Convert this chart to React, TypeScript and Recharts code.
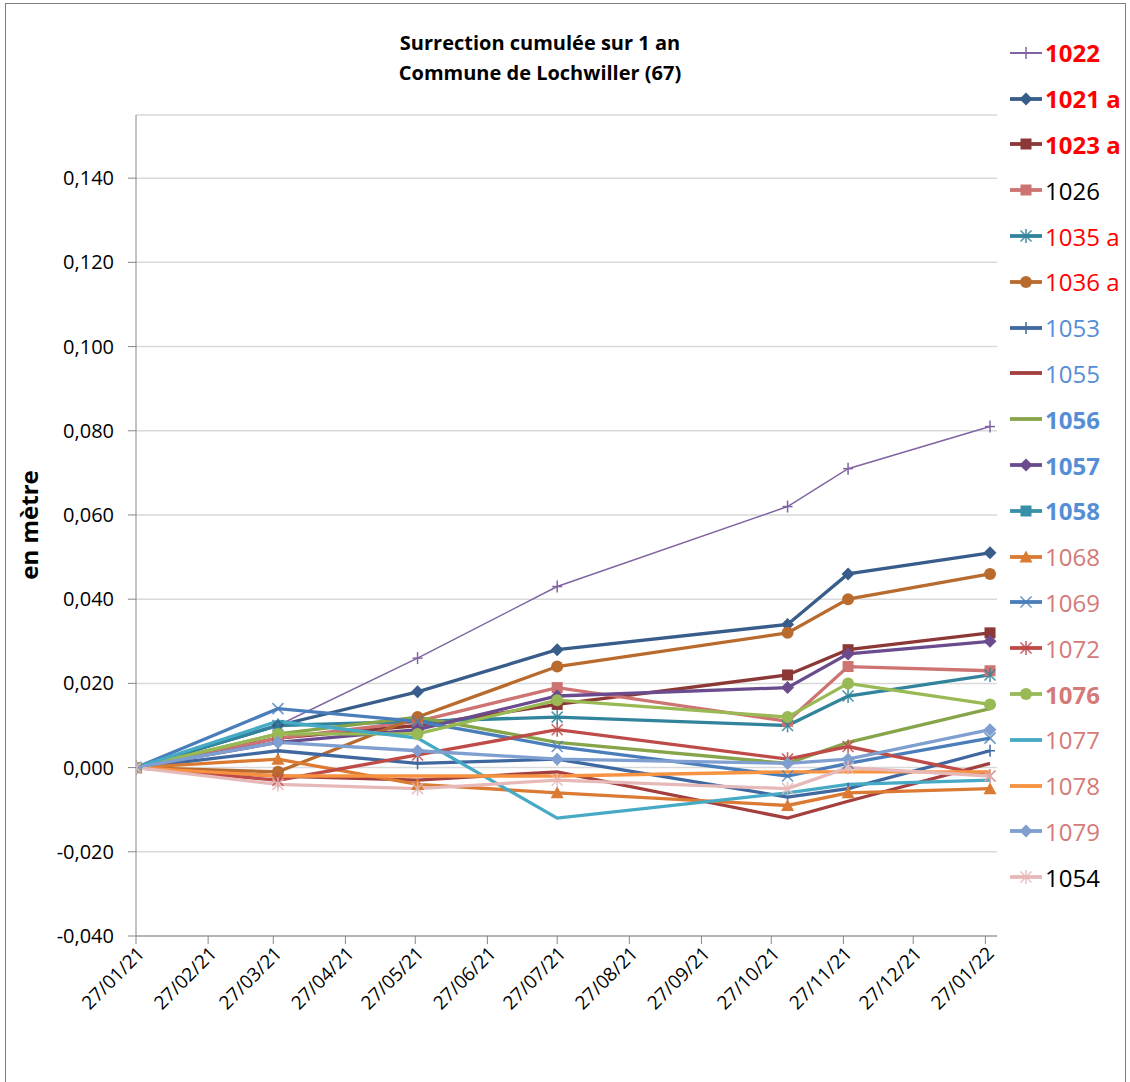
import { Legend, Line, LineChart, CartesianGrid, XAxis, YAxis } from 'recharts'

// days since 27/01/21
const surveyDays = [0, 61, 121, 181, 280, 306, 367]
const tickDays = [0, 31, 59, 90, 120, 151, 181, 212, 243, 273, 304, 334, 365]
const tickLabels = [
  '27/01/21', '27/02/21', '27/03/21', '27/04/21', '27/05/21', '27/06/21', '27/07/21',
  '27/08/21', '27/09/21', '27/10/21', '27/11/21', '27/12/21', '27/01/22',
]
const yTicks = [-0.04, -0.02, 0, 0.02, 0.04, 0.06, 0.08, 0.1, 0.12, 0.14]

const v1022 = [0, 0.01, 0.026, 0.043, 0.062, 0.071, 0.081]
const v1021a = [0, 0.01, 0.018, 0.028, 0.034, 0.046, 0.051]
const v1023a = [0, 0.007, 0.01, 0.015, 0.022, 0.028, 0.032]
const v1026 = [0, 0.007, 0.011, 0.019, 0.011, 0.024, 0.023]
const v1035a = [0, 0.01, 0.011, 0.012, 0.01, 0.017, 0.022]
const v1036a = [0, -0.001, 0.012, 0.024, 0.032, 0.04, 0.046]
const v1053 = [0, 0.004, 0.001, 0.002, -0.007, -0.005, 0.004]
const v1055 = [0, -0.002, -0.003, -0.001, -0.012, -0.008, 0.001]
const v1056 = [0, 0.008, 0.012, 0.006, 0.001, 0.006, 0.014]
const v1057 = [0, 0.006, 0.009, 0.017, 0.019, 0.027, 0.03]
const v1058 = [0, null, null, null, null, null, null]
const v1068 = [0, 0.002, -0.004, -0.006, -0.009, -0.006, -0.005]
const v1069 = [0, 0.014, 0.011, 0.005, -0.002, 0.001, 0.007]
const v1072 = [0, -0.003, 0.003, 0.009, 0.002, 0.005, -0.002]
const v1076 = [0, 0.008, 0.008, 0.016, 0.012, 0.02, 0.015]
const v1077 = [0, 0.011, 0.007, -0.012, -0.006, -0.004, -0.003]
const v1078 = [0, -0.002, -0.002, -0.002, -0.001, -0.001, -0.001]
const v1079 = [0, 0.006, 0.004, 0.002, 0.001, 0.002, 0.009]
const v1054 = [0, -0.004, -0.005, -0.003, -0.005, 0, -0.002]

type Shape = 'plus' | 'diamond' | 'square' | 'star' | 'circle' | 'triangle' | 'x' | 'none'

interface Series {
  key: string
  name: string
  values: (number | null)[]
  color: string
  width: number
  shape: Shape
  labelColor: string
  bold: boolean
}

const RED = '#FF0000'
const BLUE = '#558ED5'
const PINK = '#D47A78'
const FONT = "'Open Sans', sans-serif"

const series: Series[] = [
  { key: 's1022', name: '1022', values: v1022, color: '#8064A2', width: 1.5, shape: 'plus', labelColor: RED, bold: true },
  { key: 's1021a', name: '1021 a', values: v1021a, color: '#385D8A', width: 3.3, shape: 'diamond', labelColor: RED, bold: true },
  { key: 's1023a', name: '1023 a', values: v1023a, color: '#8C3836', width: 3.3, shape: 'square', labelColor: RED, bold: true },
  { key: 's1026', name: '1026', values: v1026, color: '#CD7371', width: 3.3, shape: 'square', labelColor: '#000000', bold: false },
  { key: 's1035a', name: '1035 a', values: v1035a, color: '#31849B', width: 3.3, shape: 'star', labelColor: RED, bold: false },
  { key: 's1036a', name: '1036 a', values: v1036a, color: '#B96B2E', width: 3.3, shape: 'circle', labelColor: RED, bold: false },
  { key: 's1053', name: '1053', values: v1053, color: '#4068A0', width: 3.3, shape: 'plus', labelColor: BLUE, bold: false },
  { key: 's1055', name: '1055', values: v1055, color: '#A33F3D', width: 3.3, shape: 'none', labelColor: BLUE, bold: false },
  { key: 's1056', name: '1056', values: v1056, color: '#86A44A', width: 3.3, shape: 'none', labelColor: BLUE, bold: true },
  { key: 's1057', name: '1057', values: v1057, color: '#6A4C8E', width: 3.3, shape: 'diamond', labelColor: BLUE, bold: true },
  { key: 's1058', name: '1058', values: v1058, color: '#3890A8', width: 3.3, shape: 'square', labelColor: BLUE, bold: true },
  { key: 's1068', name: '1068', values: v1068, color: '#DB7B33', width: 3.3, shape: 'triangle', labelColor: PINK, bold: false },
  { key: 's1069', name: '1069', values: v1069, color: '#4A7EBB', width: 3.3, shape: 'x', labelColor: PINK, bold: false },
  { key: 's1072', name: '1072', values: v1072, color: '#BE4B48', width: 3.3, shape: 'star', labelColor: PINK, bold: false },
  { key: 's1076', name: '1076', values: v1076, color: '#98B954', width: 3.3, shape: 'circle', labelColor: PINK, bold: true },
  { key: 's1077', name: '1077', values: v1077, color: '#46AAC5', width: 3.3, shape: 'none', labelColor: PINK, bold: false },
  { key: 's1078', name: '1078', values: v1078, color: '#F69240', width: 3.3, shape: 'none', labelColor: PINK, bold: false },
  { key: 's1079', name: '1079', values: v1079, color: '#7E9FD0', width: 3.3, shape: 'diamond', labelColor: PINK, bold: false },
  { key: 's1054', name: '1054', values: v1054, color: '#E6B9B8', width: 3.3, shape: 'star', labelColor: '#000000', bold: false },
]

const rows = surveyDays.map((day, i) => {
  const row: Record<string, number | null> = { day }
  series.forEach((s) => {
    row[s.key] = s.values[i]
  })
  return row
})

function Marker({ cx, cy, shape, color }: { cx: number; cy: number; shape: Shape; color: string }) {
  switch (shape) {
    case 'plus':
      return (
        <g stroke={color} strokeWidth={1.5}>
          <line x1={cx - 5} y1={cy} x2={cx + 5} y2={cy} />
          <line x1={cx} y1={cy - 6} x2={cx} y2={cy + 6} />
        </g>
      )
    case 'diamond':
      return <path d={`M${cx},${cy - 6.5}L${cx + 6.5},${cy}L${cx},${cy + 6.5}L${cx - 6.5},${cy}Z`} fill={color} />
    case 'square':
      return <rect x={cx - 5.5} y={cy - 5.5} width={11} height={11} fill={color} />
    case 'circle':
      return <circle cx={cx} cy={cy} r={6} fill={color} />
    case 'triangle':
      return <path d={`M${cx},${cy - 6.5}L${cx + 6.5},${cy + 5.5}L${cx - 6.5},${cy + 5.5}Z`} fill={color} />
    case 'x':
      return (
        <g stroke={color} strokeWidth={1.6} opacity={0.8}>
          <line x1={cx - 5.5} y1={cy - 5.5} x2={cx + 5.5} y2={cy + 5.5} />
          <line x1={cx - 5.5} y1={cy + 5.5} x2={cx + 5.5} y2={cy - 5.5} />
        </g>
      )
    case 'star':
      return (
        <g stroke={color} strokeWidth={1.6} opacity={0.85}>
          <line x1={cx - 5.5} y1={cy - 5.5} x2={cx + 5.5} y2={cy + 5.5} />
          <line x1={cx - 5.5} y1={cy + 5.5} x2={cx + 5.5} y2={cy - 5.5} />
          <line x1={cx} y1={cy - 7} x2={cx} y2={cy + 7} />
        </g>
      )
    default:
      return null
  }
}

function makeDot(s: Series) {
  return (props: { cx?: number; cy?: number; index?: number; value?: unknown }) => {
    const { cx, cy, index, value } = props
    if (s.shape === 'none' || cx == null || cy == null || value == null) return <g key={`${s.key}-${index}`} />
    return (
      <g key={`${s.key}-${index}`}>
        <Marker cx={cx} cy={cy} shape={s.shape} color={s.color} />
      </g>
    )
  }
}

function DateTick({ x, y, payload }: { x?: number; y?: number; payload?: { value: number } }) {
  const idx = tickDays.indexOf(payload?.value ?? -1)
  return (
    <g transform={`translate(${(x ?? 0) + 5},${(y ?? 0) + 4}) rotate(-45)`}>
      <text textAnchor="end" dy="0.35em" fontSize={19} fill="#000" fontFamily={FONT}>
        {idx >= 0 ? tickLabels[idx] : ''}
      </text>
    </g>
  )
}

function LegendBox() {
  return (
    <div style={{ width: 122, fontFamily: FONT }}>
      {series.map((s) => (
        <div key={s.key} style={{ height: 45.8, display: 'flex', alignItems: 'center' }}>
          <svg width={36} height={20} style={{ flex: 'none' }}>
            <line x1={2} y1={10} x2={34} y2={10} stroke={s.color} strokeWidth={s.width + 0.5} />
            <Marker cx={18} cy={10} shape={s.shape} color={s.color} />
          </svg>
          <span style={{ fontSize: 24, color: s.labelColor, fontWeight: s.bold ? 700 : 400, marginLeft: 1, whiteSpace: 'nowrap' }}>
            {s.name}
          </span>
        </div>
      ))}
    </div>
  )
}

const fmt = (v: number) => v.toFixed(3).replace('.', ',')

export default function App() {
  return (
    <div style={{ position: 'fixed', left: 0, top: 0, width: 1130, height: 1082, background: '#fff', overflow: 'hidden' }}>
      <div
        style={{
          position: 'absolute', left: 5, top: 3, width: 1121, height: 1085,
          border: '1px solid #7f7f7f', boxSizing: 'border-box',
        }}
      />
      <div
        style={{
          position: 'absolute', left: 0, top: 28, width: 1080, textAlign: 'center',
          fontFamily: FONT, fontWeight: 700, fontSize: 20, lineHeight: '30px', color: '#000',
        }}
      >
        Surrection cumulée sur 1 an
        <br />
        Commune de Lochwiller (67)
      </div>
      <LineChart
        width={1130}
        height={1082}
        data={rows}
        margin={{ top: 115, right: 11, bottom: 0, left: 0 }}
        style={{ position: 'absolute', left: 0, top: 0 }}
      >
        <CartesianGrid vertical={false} stroke="#D9D9D9" strokeWidth={1.5} />
        <XAxis
          dataKey="day"
          type="number"
          domain={[0, 370]}
          ticks={tickDays}
          interval={0}
          tick={<DateTick />}
          tickSize={8}
          stroke="#868686"
          height={146}
          allowDataOverflow
        />
        <YAxis
          type="number"
          domain={[-0.04, 0.155]}
          ticks={yTicks}
          interval={0}
          allowDataOverflow
          width={136}
          tickSize={8}
          tickMargin={14}
          tickFormatter={fmt}
          stroke="#868686"
          tick={{ fill: '#000', fontSize: 20, fontFamily: FONT }}
          label={{
            content: () => (
              <text
                x={38}
                y={525}
                transform="rotate(-90 38 525)"
                textAnchor="middle"
                fontSize={24}
                fontWeight={700}
                fontFamily={FONT}
                fill="#000"
              >
                en mètre
              </text>
            ),
          }}
        />
        <Legend
          layout="vertical"
          align="right"
          verticalAlign="top"
          content={<LegendBox />}
          wrapperStyle={{ left: 1008, top: 30, right: 'auto', width: 122 }}
        />
        {series.map((s) => (
          <Line
            key={s.key}
            dataKey={s.key}
            name={s.name}
            type="linear"
            stroke={s.color}
            strokeWidth={s.width}
            dot={makeDot(s)}
            activeDot={false}
            isAnimationActive={false}
          />
        ))}
      </LineChart>
    </div>
  )
}
